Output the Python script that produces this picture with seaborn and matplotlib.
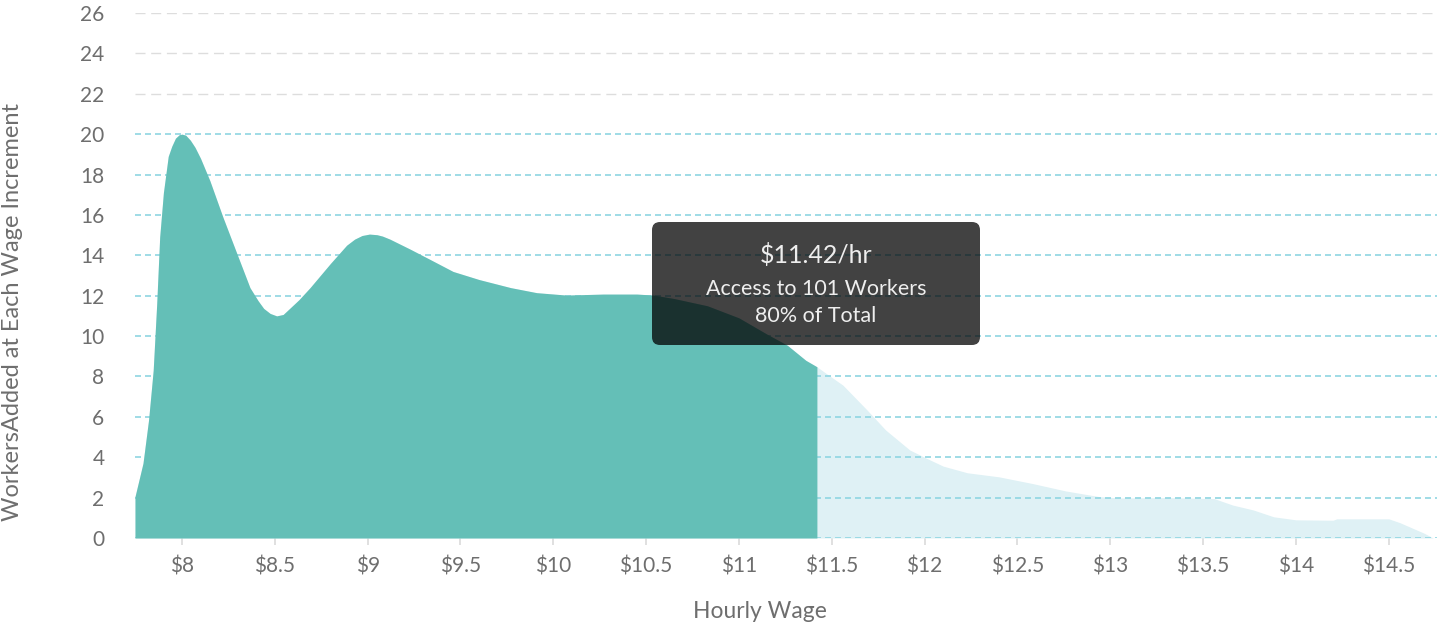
#!/usr/bin/env python
import numpy as np
import pandas as pd
import seaborn as sns
import matplotlib.pyplot as plt
from matplotlib.patches import FancyBboxPatch

# wage curve (hourly wage, workers added)
wages = [7.747, 7.79, 7.82, 7.845, 7.864, 7.88, 7.90, 7.926, 7.945, 7.965,
         7.985, 8.0, 8.02, 8.045, 8.07, 8.1, 8.15, 8.22, 8.295, 8.366,
         8.41, 8.44, 8.475, 8.51, 8.545, 8.58, 8.63, 8.69, 8.80, 8.887,
         8.93, 8.97, 9.01, 9.05, 9.08, 9.12, 9.23, 9.335, 9.46, 9.6,
         9.77, 9.91, 10.07, 10.27, 10.45, 10.54, 10.65, 10.83, 11.0, 11.15,
         11.26, 11.36, 11.42, 11.47, 11.56, 11.69, 11.79, 11.92, 12.01, 12.1,
         12.23, 12.4, 12.58, 12.76, 12.94, 13.05, 13.3, 13.56, 13.66, 13.77,
         13.88, 14.0, 14.2, 14.22, 14.5, 14.56, 14.63, 14.69, 14.74]
workers = [2.05, 3.7, 5.84, 8.3, 11.6, 14.9, 17.1, 18.9, 19.4, 19.8,
           19.97, 20.0, 19.95, 19.7, 19.35, 18.8, 17.7, 15.9, 14.1, 12.4,
           11.75, 11.37, 11.12, 11.0, 11.07, 11.37, 11.8, 12.4, 13.6, 14.5,
           14.8, 14.98, 15.05, 15.02, 14.95, 14.8, 14.3, 13.8, 13.2, 12.8,
           12.4, 12.15, 12.03, 12.08, 12.08, 12.03, 11.86, 11.5, 10.9, 10.1,
           9.55, 8.8, 8.48, 8.15, 7.57, 6.34, 5.35, 4.36, 3.95, 3.56,
           3.23, 3.03, 2.7, 2.33, 2.05, 1.98, 2.0, 1.95, 1.63, 1.39,
           1.05, 0.9, 0.88, 0.95, 0.95, 0.76, 0.48, 0.24, 0.0]

cutoff = 11.42
access_workers = 101
access_share = 80

y_ticks = list(range(0, 27, 2))
x_ticks = [8, 8.5, 9, 9.5, 10, 10.5, 11, 11.5, 12, 12.5, 13, 13.5, 14, 14.5]
x_labels = ["$8", "$8.5", "$9", "$9.5", "$10", "$10.5", "$11", "$11.5",
            "$12", "$12.5", "$13", "$13.5", "$14", "$14.5"]

df = pd.DataFrame({"wage": wages, "workers": workers})
df["reached"] = df["wage"] <= cutoff + 1e-9

sns.set_style("white")
plt.rcParams["font.family"] = ["Lato", "DejaVu Sans"]

TEAL = "#64bfb7"
LIGHT = "#dff1f5"
GRID_TEAL = "#8fd6e2"
GRID_GRAY = "#dddddd"
TEXT = "#6e6e6e"

fig = plt.figure(figsize=(14.37, 6.29), dpi=100)
ax = fig.add_axes([135 / 1437, 91 / 629, 1302 / 1437, 525 / 629])

# full curve (light) and the reachable part (teal)
sns.lineplot(data=df, x="wage", y="workers", ax=ax, color=LIGHT, lw=0, zorder=1)
ax.fill_between(df["wage"], df["workers"], color=LIGHT, lw=0, zorder=1)

# grid lines: teal up to 20, gray above
for t in y_ticks:
    if t <= 20:
        ax.axhline(t, color=GRID_TEAL, lw=1.2, ls=(0, (3.6, 2.4)), zorder=2)
    else:
        ax.axhline(t, color=GRID_GRAY, lw=1.0, ls=(0, (7.2, 4.1)), zorder=2)

reached = df[df["reached"]]
ax.fill_between(reached["wage"], reached["workers"], color=TEAL, lw=0, zorder=3)

ax.set_xlim(7.747, 14.76)
ax.set_ylim(0, 26)
ax.set_yticks(y_ticks)
ax.set_yticklabels([str(t) for t in y_ticks])
ax.set_xticks(x_ticks)
ax.set_xticklabels(x_labels)
ax.set_xlabel("")
ax.set_ylabel("")

for s in ax.spines.values():
    s.set_visible(False)

ax.tick_params(axis="y", length=0, pad=22, labelsize=15, labelcolor=TEXT)
ax.tick_params(axis="x", length=5, width=1.3, color=GRID_GRAY, direction="out",
               pad=8, labelsize=15, labelcolor=TEXT, bottom=True)

fig.text(760 / 1437, 1 - 612 / 629, "Hourly Wage", ha="center", va="center",
         fontsize=16.5, color=TEXT)
fig.text(13 / 1437, 1 - 312 / 629, "WorkersAdded at Each Wage Increment",
         ha="center", va="center", rotation=90, fontsize=17, color=TEXT)

# tooltip, laid out in inches so the corners stay round
tip = FancyBboxPatch((6.52, 2.84), 3.28, 1.23,
                     boxstyle="round,pad=0,rounding_size=0.08",
                     transform=fig.dpi_scale_trans, facecolor="black",
                     alpha=0.74, edgecolor="none", zorder=5)
fig.patches.append(tip)
fig.text(8.16 / 14.37, 3.74 / 6.29, f"${cutoff:.2f}/hr", ha="center",
         va="center", fontsize=18, color="#eeeeee", zorder=6)
fig.text(8.16 / 14.37, 3.40 / 6.29, f"Access to {access_workers} Workers",
         ha="center", va="center", fontsize=15.5, color="#eeeeee", zorder=6)
fig.text(8.16 / 14.37, 3.13 / 6.29, f"{access_share}% of Total",
         ha="center", va="center", fontsize=15.5, color="#eeeeee", zorder=6)

fig.savefig("out.png", dpi=100)
plt.close(fig)
